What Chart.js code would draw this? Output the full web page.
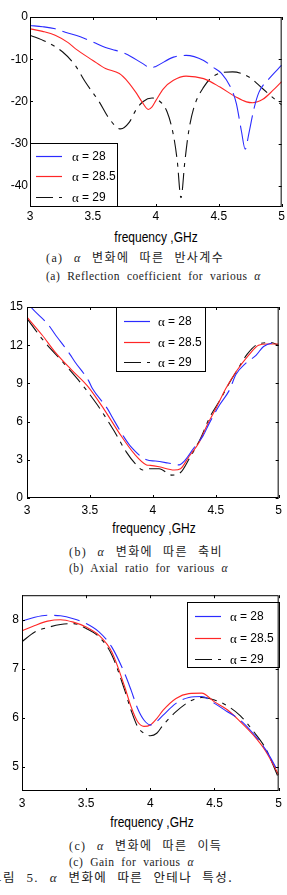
<!DOCTYPE html>
<html>
<head>
<meta charset="utf-8">
<script src="https://cdn.jsdelivr.net/npm/chart.js@4.4.0/dist/chart.umd.min.js"></script>
<style>
  body { margin: 0; background: #fff; }
  #hoja { position: relative; width: 287px; height: 895px; overflow: hidden; background: #fff; }
  canvas { position: absolute; left: 0; }
  .xlab { position: absolute; font-family: "Liberation Sans", Arial, sans-serif; font-size: 15px; line-height: 16px;
          white-space: nowrap; transform: translateX(-50%) scaleX(0.8); color: #000; }
  .cap { position: absolute; white-space: nowrap; color: #222; line-height: 14px; }
  .ko { font-family: "Liberation Serif", serif; font-size: 12px; letter-spacing: 1.4px; word-spacing: 6px; }
  .ko .h { font-family: "Noto Sans CJK KR", sans-serif; font-size: 12px; }
  .en { font-family: "Liberation Serif", serif; font-size: 11.5px; letter-spacing: 0.5px; word-spacing: 3.5px; }
  .al { font-family: "Liberation Serif", serif; font-style: italic; }
</style>
</head>
<body>
<div id="hoja">
  <canvas id="graf1" width="287" height="225" style="top:0px"></canvas>
  <div class="xlab" style="left:156px;top:229px">frequency ,GHz</div>
  <div class="cap ko" style="left:46px;top:250px">(a) <span class="al">α</span> <span class="h">변화에 따른 반사계수</span></div>
  <div class="cap en" style="left:46px;top:269px">(a) Reflection coefficient for various <span class="al">α</span></div>

  <canvas id="graf2" width="287" height="221" style="top:295px"></canvas>
  <div class="xlab" style="left:154px;top:520px">frequency ,GHz</div>
  <div class="cap ko" style="left:69px;top:544px">(b) <span class="al">α</span> <span class="h">변화에 따른 축비</span></div>
  <div class="cap en" style="left:69px;top:561px">(b) Axial ratio for various <span class="al">α</span></div>

  <canvas id="graf3" width="287" height="224" style="top:585px"></canvas>
  <div class="xlab" style="left:152px;top:814px">frequency ,GHz</div>
  <div class="cap ko" style="left:69px;top:838px">(c) <span class="al">α</span> <span class="h">변화에 따른 이득</span></div>
  <div class="cap en" style="left:69px;top:855px">(c) Gain for various <span class="al">α</span></div>
  <div class="cap ko" style="left:-10px;top:870px;font-size:13px"><span class="h" style="font-size:12.5px">그림</span> 5. <span class="al">α</span> <span class="h" style="font-size:12.5px">변화에 따른 안테나 특성.</span></div>
</div>

<script>
// etiquetas de la leyenda (alpha)
const alfas = ['28', '28.5', '29'];
const xTicks = [3, 3.5, 4, 4.5, 5];

// (a) coeficiente de reflexion, dB
const refFreq28 = [3.0, 3.1, 3.2, 3.28, 3.4, 3.5, 3.6, 3.68, 3.76, 3.9, 3.96, 4.0, 4.14, 4.24, 4.38, 4.45, 4.52, 4.6, 4.64, 4.68, 4.71, 4.74, 4.78, 4.82, 4.9, 5.0];
const refVal28 = [-2.0, -2.3, -2.8, -3.6, -4.7, -5.9, -7.2, -7.9, -8.7, -11.1, -12.1, -11.7, -9.5, -9.1, -10.3, -11.8, -13.3, -17.0, -20.5, -27.0, -31.3, -27.5, -21.7, -17.8, -14.6, -11.4];
const refFreq285 = [3.0, 3.1, 3.2, 3.3, 3.36, 3.5, 3.6, 3.71, 3.78, 3.84, 3.89, 3.94, 3.97, 4.0, 4.06, 4.14, 4.24, 4.38, 4.51, 4.64, 4.72, 4.77, 4.85, 4.93, 5.0];
const refVal285 = [-2.8, -3.4, -4.3, -6.0, -7.5, -10.3, -12.2, -13.4, -15.4, -17.8, -20.1, -21.9, -21.3, -19.8, -17.0, -15.0, -14.0, -14.6, -16.6, -19.0, -20.1, -20.3, -19.5, -17.4, -15.3];
const refFreq29 = [3.0, 3.13, 3.26, 3.36, 3.44, 3.55, 3.63, 3.72, 3.79, 3.84, 3.9, 3.97, 4.02, 4.09, 4.14, 4.17, 4.2, 4.23, 4.26, 4.3, 4.38, 4.47, 4.61, 4.74, 4.85, 4.97, 5.0];
const refVal29 = [-4.3, -5.9, -8.3, -11.5, -15.4, -20.1, -24.1, -26.5, -24.9, -22.1, -20.0, -19.2, -19.7, -22.5, -28.0, -34.0, -42.8, -34.4, -27.3, -21.7, -16.6, -13.8, -13.0, -14.2, -17.0, -20.1, -20.8];
const refTicks = [0, -10, -20, -30, -40];

// (b) relacion axial
const arFreq28 = [3.0, 3.03, 3.17, 3.22, 3.34, 3.38, 3.49, 3.52, 3.64, 3.68, 3.77, 3.82, 3.95, 4.02, 4.12, 4.21, 4.25, 4.32, 4.40, 4.45, 4.53, 4.61, 4.66, 4.74, 4.82, 4.88, 5.0];
const arVal28 = [15.4, 15.0, 13.6, 12.9, 11.3, 10.7, 9.2, 8.6, 7.0, 6.3, 4.8, 4.1, 3.0, 2.9, 2.75, 2.6, 2.9, 3.85, 4.9, 5.9, 7.3, 8.5, 9.7, 10.6, 11.2, 11.9, 12.3];
const arFreq285 = [3.0, 3.12, 3.22, 3.35, 3.48, 3.61, 3.74, 3.85, 3.95, 3.98, 4.05, 4.17, 4.22, 4.29, 4.37, 4.43, 4.50, 4.58, 4.66, 4.76, 4.84, 4.91, 5.0];
const arVal285 = [14.2, 12.8, 11.5, 10.1, 8.8, 7.0, 5.0, 3.5, 2.6, 2.56, 2.45, 2.2, 2.3, 3.3, 4.4, 5.7, 7.0, 8.6, 9.9, 11.2, 12.0, 12.1, 12.1];
const arFreq29 = [3.0, 3.12, 3.30, 3.43, 3.56, 3.69, 3.79, 3.86, 3.92, 3.98, 4.05, 4.15, 4.22, 4.29, 4.38, 4.45, 4.54, 4.60, 4.68, 4.75, 4.84, 4.94, 5.0];
const arVal29 = [14.1, 12.5, 10.5, 9.0, 7.3, 5.3, 3.6, 2.7, 2.2, 2.3, 2.3, 1.8, 2.0, 3.1, 4.7, 6.3, 7.8, 8.9, 10.2, 11.3, 12.1, 12.2, 12.0];
const arTicks = [0, 3, 6, 9, 12, 15];

// (c) ganancia
const gFreq = [3.0, 3.1, 3.2, 3.3, 3.4, 3.5, 3.6, 3.7, 3.8, 3.85, 3.9, 3.95, 4.0, 4.05, 4.1, 4.2, 4.3, 4.4, 4.5, 4.6, 4.7, 4.8, 4.9, 5.0];
const gVal28 = [7.97, 8.05, 8.09, 8.08, 8.02, 7.92, 7.75, 7.44, 6.9, 6.56, 6.19, 5.95, 5.85, 5.92, 6.05, 6.29, 6.41, 6.43, 6.29, 6.12, 5.95, 5.68, 5.34, 4.88];
const gVal285 = [7.77, 7.88, 7.97, 8.0, 7.95, 7.85, 7.68, 7.34, 6.63, 6.22, 5.92, 5.82, 5.85, 5.98, 6.15, 6.39, 6.49, 6.5, 6.32, 6.16, 5.92, 5.65, 5.31, 4.83];
const gVal29 = [7.55, 7.75, 7.84, 7.9, 7.92, 7.82, 7.65, 7.28, 6.56, 6.15, 5.82, 5.68, 5.63, 5.68, 5.85, 6.12, 6.32, 6.41, 6.36, 6.24, 6.04, 5.73, 5.36, 4.76];
const gTicks = [5, 6, 7, 8];

const estilos = [
  { color: '#2b2bff', dash: [26, 7] },
  { color: '#ff2626', dash: [] },
  { color: '#111111', dash: [17, 6, 4, 6] }
];

function serie(fr, val, i) {
  return {
    label: 'α = ' + alfas[i],
    data: fr.map((f, k) => ({ x: f, y: val[k] })),
    borderColor: estilos[i].color,
    borderDash: estilos[i].dash,
    borderWidth: 1.1,
    pointRadius: 0,
    fill: false,
    cubicInterpolationMode: 'monotone'
  };
}

// marco, marcas interiores y leyenda
const marcoPlugin = {
  id: 'marco',
  afterDraw(chart, args, opts) {
    const ctx = chart.ctx;
    const a = chart.chartArea;
    const xs = chart.scales.x, ys = chart.scales.y;
    ctx.save();
    ctx.strokeStyle = '#000';
    ctx.lineWidth = 1;
    ctx.setLineDash([]);
    ctx.beginPath();
    xs.ticks.forEach((t, i) => {
      const px = Math.round(xs.getPixelForTick(i)) + 0.5;
      ctx.moveTo(px, a.top); ctx.lineTo(px, a.top + 3);
      ctx.moveTo(px, a.bottom); ctx.lineTo(px, a.bottom - 3);
    });
    ys.ticks.forEach((t, i) => {
      const py = Math.round(ys.getPixelForTick(i)) + 0.5;
      ctx.moveTo(a.left, py); ctx.lineTo(a.left + 3, py);
      ctx.moveTo(a.right, py); ctx.lineTo(a.right - 3, py);
    });
    ctx.stroke();

    const b = opts.caja;
    ctx.fillStyle = '#fff';
    ctx.fillRect(b.x, b.y, b.w, b.h);
    ctx.strokeRect(b.x + 0.5, b.y + 0.5, b.w - 1, b.h - 1);
    chart.data.datasets.forEach((ds, i) => {
      const y = b.filas[i] + 0.5;
      ctx.strokeStyle = ds.borderColor;
      ctx.lineWidth = 1.2;
      ctx.setLineDash(ds.borderDash);
      ctx.beginPath();
      ctx.moveTo(b.x + b.l0, y); ctx.lineTo(b.x + b.l1, y);
      ctx.stroke();
      ctx.setLineDash([]);
      ctx.fillStyle = '#000';
      ctx.textBaseline = 'middle';
      ctx.font = '13px "Liberation Serif", serif';
      ctx.fillText('α', b.x + b.tx, y + 1);
      ctx.font = '12px "Liberation Sans", Arial, sans-serif';
      ctx.fillText('= ' + alfas[i], b.x + b.tx + 10, y);
    });

    ctx.strokeStyle = '#000';
    ctx.lineWidth = 1;
    ctx.strokeRect(a.left + 0.5, a.top + 0.5, a.right - a.left - 1, a.bottom - a.top - 1);
    ctx.restore();
  }
};

function crearGrafico(id, datasets, yMin, yMax, yTicks, cfg) {
  const ctx = document.getElementById(id).getContext('2d');
  return new Chart(ctx, {
    type: 'line',
    data: { datasets: datasets },
    plugins: [marcoPlugin],
    options: {
      responsive: false,
      animation: false,
      events: [],
      layout: { padding: { top: cfg.arriba, right: 4, left: 0, bottom: 0 } },
      plugins: {
        legend: { display: false },
        tooltip: { enabled: false },
        marco: { caja: cfg.caja }
      },
      scales: {
        x: {
          type: 'linear', min: 3, max: 5,
          grid: { display: false, drawTicks: false },
          border: { display: false },
          afterBuildTicks: s => { s.ticks = xTicks.map(v => ({ value: v })); },
          afterFit: s => { s.height = 18; },
          ticks: {
            padding: cfg.padX, color: '#000', maxRotation: 0,
            font: { family: '"Liberation Sans", Arial, sans-serif', size: 12 },
            callback: v => String(v)
          }
        },
        y: {
          min: yMin, max: yMax,
          grid: { display: false, drawTicks: false },
          border: { display: false },
          afterBuildTicks: s => { s.ticks = yTicks.map(v => ({ value: v })); },
          afterFit: s => { s.width = cfg.anchoY; },
          ticks: {
            padding: cfg.padY, color: '#000',
            font: { family: '"Liberation Sans", Arial, sans-serif', size: 12 },
            callback: v => String(v)
          }
        }
      }
    }
  });
}

crearGrafico('graf1', [
  serie(refFreq28, refVal28, 0),
  serie(refFreq285, refVal285, 1),
  serie(refFreq29, refVal29, 2)
], -45, 0, refTicks, {
  arriba: 17, anchoY: 30, padX: 2, padY: 2,
  caja: { x: 30, y: 143, w: 88, h: 64, filas: [156, 176, 197], l0: 6, l1: 32, tx: 42 }
});

crearGrafico('graf2', [
  serie(arFreq28, arVal28, 0),
  serie(arFreq285, arVal285, 1),
  serie(arFreq29, arVal29, 2)
], 0, 15, arTicks, {
  arriba: 12, anchoY: 27, padX: 5, padY: 4,
  caja: { x: 116, y: 12, w: 90, h: 65, filas: [26, 47, 67], l0: 8, l1: 34, tx: 42 }
});

crearGrafico('graf3', [
  serie(gFreq, gVal28, 0),
  serie(gFreq, gVal285, 1),
  serie(gFreq, gVal29, 2)
], 4.5, 8.5, gTicks, {
  arriba: 10, anchoY: 22, padX: 5, padY: 3,
  caja: { x: 187, y: 17, w: 93, h: 66, filas: [31, 53, 74], l0: 8, l1: 34, tx: 43 }
});
</script>
</body>
</html>
